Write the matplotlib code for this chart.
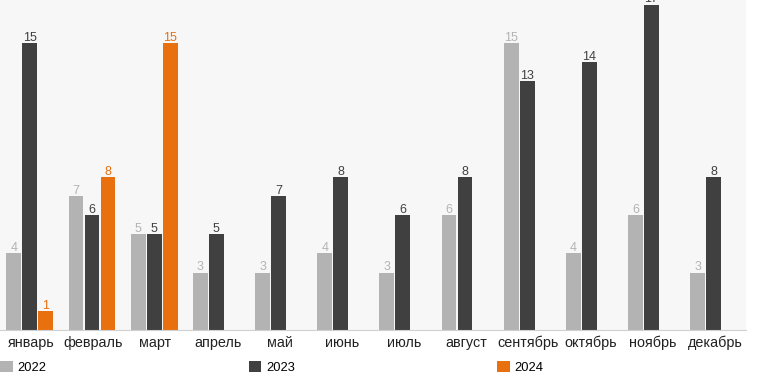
import matplotlib.pyplot as plt
import numpy as np
from matplotlib.patches import Patch

plt.rcParams['font.family'] = ['Liberation Sans', 'DejaVu Sans']

months = ['январь', 'февраль', 'март', 'апрель', 'май', 'июнь', 'июль',
          'август', 'сентябрь', 'октябрь', 'ноябрь', 'декабрь']
years = ['2022', '2023', '2024']
v2022 = [4, 7, 5, 3, 3, 4, 3, 6, 15, 4, 6, 3]
v2023 = [15, 6, 5, 5, 7, 8, 6, 8, 13, 14, 17, 8]
v2024 = [1, 8, 15]

colors = ['#b3b3b3', '#404040', '#e8700f']
label_colors = ['#b3b3b3', '#404040', '#e8700f']

fig = plt.figure(figsize=(7.6, 3.79), dpi=100)
ax = fig.add_axes([0, 49 / 379, 746 / 760, 330 / 379])
ax.set_facecolor('#f7f7f7')

x = np.arange(len(months))
step = 0.257
width = 0.24
series = [v2022, v2023, v2024]
for i, vals in enumerate(series):
    xs = x[:len(vals)] + (i - 1) * step - 0.02
    bars = ax.bar(xs, vals, width, color=colors[i], edgecolor='none', zorder=2)
    ax.bar_label(bars, padding=-0.5, fontsize=9, color=label_colors[i])

ax.set_xlim(-0.5, 11.5)
ax.set_ylim(0, 17.25)
ax.set_yticks([])
ax.set_xticks(x)
ax.set_xticklabels(months, fontsize=10.4, color='#222222')
ax.tick_params(axis='x', length=0, pad=4)
for s in ['top', 'right', 'left']:
    ax.spines[s].set_visible(False)
ax.spines['bottom'].set_color('#d0d0d0')

# легенда: три элемента на равных расстояниях
for i, (yr, c) in enumerate(zip(years, colors)):
    fig.legend([Patch(facecolor=c, edgecolor='none')], [yr],
               loc='lower left', bbox_to_anchor=(i * 248.5 / 760, 5 / 379),
               frameon=False, fontsize=9.3, handlelength=1.0, handleheight=1.0,
               handletextpad=0.35, borderaxespad=0, borderpad=0)

fig.savefig('out.png', dpi=100, facecolor='white')
